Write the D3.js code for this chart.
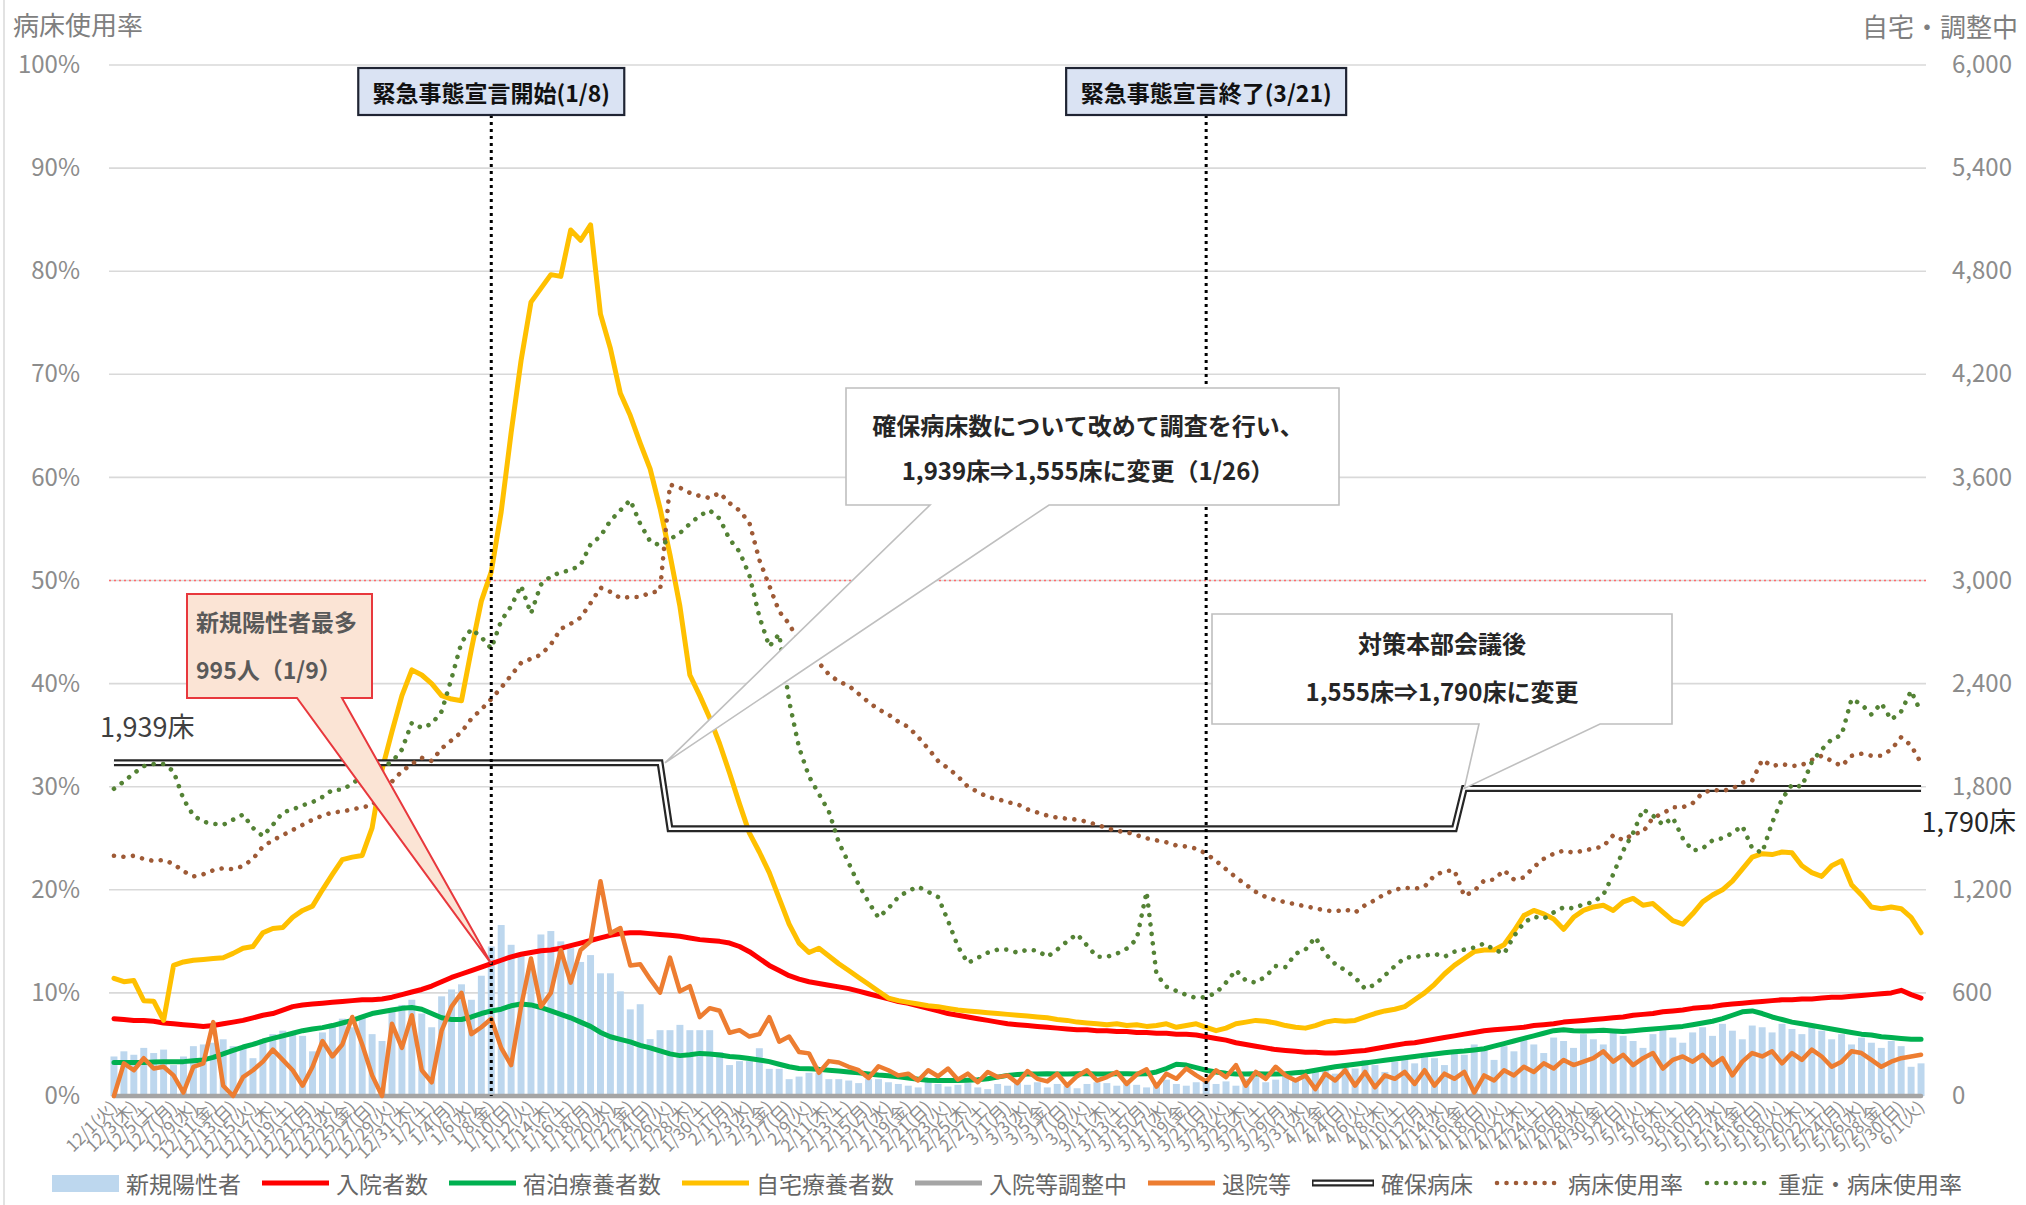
<!DOCTYPE html>
<html lang="ja">
<head>
<meta charset="utf-8">
<title>病床使用率</title>
<script src="https://cdn.jsdelivr.net/npm/d3@7/dist/d3.min.js"></script>
<style>
  html, body { margin: 0; padding: 0; background: #ffffff; }
  svg { display: block; }
</style>
</head>
<body>
<svg id="chart" width="2026" height="1205"></svg>
<script>
const FONT = '"Noto Sans CJK JP", "Noto Sans", sans-serif';

// ---------- categories & ticks ----------
const startDay = new Date(2020, 11, 1);
const endDay = new Date(2021, 5, 1);
const weekdayNames = ["日","月","火","水","木","金","土"];
const leftTicks = [0, 10, 20, 30, 40, 50, 60, 70, 80, 90, 100];
const rightTicks = [0, 600, 1200, 1800, 2400, 3000, 3600, 4200, 4800, 5400, 6000];

// ---------- series (right axis: persons / beds) ----------
const newCases = [
 230,260,240,280,250,270,180,230,290,300,
 310,330,290,280,220,330,360,380,370,350,
 260,370,420,450,400,470,360,320,500,530,
 560,480,400,580,620,650,560,700,870,995,
 880,830,760,940,960,900,860,780,820,714,
 714,609,504,534,331,383,383,414,383,383,
 383,256,180,203,203,278,158,158,98,113,
 135,135,98,98,90,75,98,98,80,70,
 60,50,90,70,55,65,75,50,40,70,
 60,75,65,80,50,70,60,45,70,80,
 75,60,90,65,50,80,95,70,60,80,
 90,70,85,60,100,110,80,95,120,90,
 110,150,170,130,190,160,210,180,140,200,
 230,190,250,220,180,260,240,300,270,210,
 290,260,330,300,250,340,320,280,360,330,
 300,380,350,320,280,360,390,340,310,370,
 400,350,420,380,330,410,400,370,420,390,
 360,410,380,330,360,300,340,310,280,320,
 290,170,190];

const hospitalized = [
 450,445,440,440,435,425,420,415,410,405,
 410,420,430,440,455,470,480,500,520,530,
 535,540,545,550,555,560,560,565,575,590,
 605,620,640,665,690,710,730,750,770,790,
 810,825,835,845,850,860,875,890,905,920,
 935,945,950,950,945,940,935,930,920,910,
 905,900,890,870,840,800,760,730,700,680,
 665,655,645,635,625,610,595,580,565,550,
 540,525,510,495,480,470,460,450,440,430,
 420,415,410,405,400,395,390,385,385,380,
 380,375,375,370,370,365,365,360,360,355,
 345,335,325,310,300,290,280,270,265,260,
 255,255,250,250,255,260,265,275,285,295,
 305,310,320,330,340,350,360,370,380,385,
 390,395,400,410,415,420,430,435,440,445,
 450,455,460,470,475,480,490,495,500,510,
 515,520,530,535,540,545,550,555,560,560,
 565,565,570,575,575,580,585,590,595,600,
 615,590,570];

const hotel = [
 195,195,195,195,198,200,200,200,205,210,
 225,245,265,285,300,320,335,350,365,380,
 390,398,410,425,440,460,480,490,500,510,
 515,505,480,455,445,445,460,480,495,505,
 525,535,530,515,495,475,455,430,405,370,
 345,330,315,295,280,262,245,235,240,248,
 245,238,230,225,218,210,200,185,170,160,
 158,155,150,145,140,135,128,122,118,112,
 105,98,92,90,90,90,92,95,100,110,
 120,125,128,128,130,128,128,130,130,128,
 128,130,130,128,130,140,160,185,180,165,
 150,140,132,128,128,130,128,128,130,135,
 140,150,160,170,178,185,192,200,208,215,
 222,230,238,245,252,258,262,268,275,290,
 305,320,335,350,365,380,385,380,378,380,
 382,378,375,380,385,390,395,400,405,415,
 425,435,450,470,490,495,480,460,445,430,
 420,410,400,390,380,370,360,355,345,340,
 335,330,330];

const home = [
 685,665,672,555,552,440,760,780,790,795,
 800,805,830,860,870,950,975,980,1040,1080,
 1105,1200,1290,1376,1390,1400,1560,1900,2120,2330,
 2480,2450,2400,2330,2310,2300,2600,2880,3050,3400,
 3860,4280,4620,4700,4780,4770,5040,4980,5070,4550,
 4350,4090,3960,3800,3650,3420,3150,2850,2450,2330,
 2200,2050,1880,1700,1530,1420,1300,1150,1000,890,
 835,860,815,770,730,690,650,610,570,555,
 545,535,525,520,510,500,495,490,485,480,
 475,470,465,460,455,445,440,430,425,420,
 415,420,410,415,405,410,420,400,410,420,
 400,380,395,420,430,440,435,425,410,400,
 395,410,430,440,435,440,460,480,495,505,
 520,560,600,650,710,760,800,840,850,850,
 880,960,1050,1080,1060,1030,970,1040,1080,1100,
 1110,1080,1130,1150,1110,1120,1070,1020,1000,1060,
 1130,1170,1200,1250,1320,1390,1410,1405,1420,1415,
 1340,1300,1278,1340,1369,1230,1170,1100,1090,1100,
 1090,1040,950];

const adjusting = [
 0,0,0,0,0,0,0,0,0,0, 0,0,0,0,0,0,0,0,0,0,
 0,0,0,0,0,0,0,0,0,0, 0,0,0,0,0,0,0,0,0,0,
 0,0,0,0,0,0,0,0,0,0, 0,0,0,0,0,0,0,0,0,0,
 0,0,0,0,0,0,0,0,0,0, 0,0,0,0,0,0,0,0,0,0,
 0,0,0,0,0,0,0,0,0,0, 0,0,0,0,0,0,0,0,0,0,
 0,0,0,0,0,0,0,0,0,0, 0,0,0,0,0,0,0,0,0,0,
 0,0,0,0,0,0,0,0,0,0, 0,0,0,0,0,0,0,0,0,0,
 0,0,0,0,0,0,0,0,0,0, 0,0,0,0,0,0,0,0,0,0,
 0,0,0,0,0,0,0,0,0,0, 0,0,0,0,0,0,0,0,0,0,
 0,0,0];

const discharged = [
 0,190,150,220,160,170,120,20,170,190,
 430,60,0,110,150,200,270,210,150,60,
 170,320,230,300,460,300,120,0,420,280,
 470,150,80,380,520,600,360,400,450,280,
 180,520,800,520,600,850,660,850,900,1250,
 947,977,760,767,680,601,805,609,639,459,
 511,496,368,383,346,360,459,316,346,256,
 248,135,203,195,170,150,105,173,150,120,
 130,90,150,115,160,95,130,80,140,110,
 120,75,145,100,85,130,60,115,150,90,
 110,140,70,125,155,55,130,100,160,120,
 85,150,110,180,60,140,100,170,120,90,
 120,40,130,90,150,60,140,50,120,100,
 140,70,150,60,130,100,140,20,120,90,
 150,120,170,140,190,160,210,180,200,220,
 260,200,240,180,220,250,160,210,230,200,
 240,180,220,120,200,250,230,260,190,250,
 210,270,230,170,200,260,250,210,170,200,
 220,230,240];

const securedBeds = [
 1939,1939,1939,1939,1939,1939,1939,1939,1939,1939,
 1939,1939,1939,1939,1939,1939,1939,1939,1939,1939,
 1939,1939,1939,1939,1939,1939,1939,1939,1939,1939,
 1939,1939,1939,1939,1939,1939,1939,1939,1939,1939,
 1939,1939,1939,1939,1939,1939,1939,1939,1939,1939,
 1939,1939,1939,1939,1939,1939,1555,1555,1555,1555,
 1555,1555,1555,1555,1555,1555,1555,1555,1555,1555,
 1555,1555,1555,1555,1555,1555,1555,1555,1555,1555,
 1555,1555,1555,1555,1555,1555,1555,1555,1555,1555,
 1555,1555,1555,1555,1555,1555,1555,1555,1555,1555,
 1555,1555,1555,1555,1555,1555,1555,1555,1555,1555,
 1555,1555,1555,1555,1555,1555,1555,1555,1555,1555,
 1555,1555,1555,1555,1555,1555,1555,1555,1555,1555,
 1555,1555,1555,1555,1555,1555,1790,1790,1790,1790,
 1790,1790,1790,1790,1790,1790,1790,1790,1790,1790,
 1790,1790,1790,1790,1790,1790,1790,1790,1790,1790,
 1790,1790,1790,1790,1790,1790,1790,1790,1790,1790,
 1790,1790,1790,1790,1790,1790,1790,1790,1790,1790,
 1790,1790,1790];

// ---------- series (left axis: %) ----------
const bedRate = [
 23.3,23.2,23.3,23.0,22.8,22.9,22.5,21.8,21.3,21.5,
 21.9,22.1,22.0,22.3,23.0,24.2,24.8,25.3,25.8,26.3,
 26.8,27.2,27.5,27.6,27.8,28.0,28.2,29.3,30.5,31.5,
 32.2,32.8,32.5,33.7,34.5,35.3,36.6,37.5,38.5,39.6,
 40.8,42.0,42.4,42.8,43.8,45.3,45.8,46.4,47.8,49.3,
 48.9,48.3,48.4,48.4,48.8,49.0,59.3,59.0,58.5,58.2,
 58.0,58.5,57.5,56.8,55.6,52.0,49.5,47.0,45.8,44.0,
 42.8,42.0,40.9,40.2,39.8,39.0,38.2,37.5,37.0,36.3,
 35.8,34.8,33.7,32.5,31.8,31.0,30.0,29.5,29.0,28.8,
 28.5,28.3,27.8,27.5,27.2,27.0,26.9,26.8,26.6,26.3,
 26.0,25.7,25.6,25.3,25.0,24.8,24.6,24.3,24.2,24.0,
 23.5,22.8,22.0,21.2,20.5,19.8,19.3,19.0,18.8,18.6,
 18.4,18.2,18.0,17.9,18.1,17.8,18.5,19.0,19.6,20.0,
 20.2,20.1,20.3,21.4,21.8,21.9,19.4,19.9,20.9,21.0,
 21.9,21.0,21.2,22.2,23.0,23.5,23.8,23.6,23.8,24.0,
 24.2,25.3,24.8,25.4,25.6,27.0,27.4,28.0,28.0,28.4,
 29.4,29.7,29.6,29.8,30.4,30.6,32.6,32.0,32.2,32.0,
 32.1,32.6,33.0,32.5,32.0,33.0,33.2,33.0,33.0,33.6,
 34.8,34.0,32.3];

const severeRate = [
 29.8,30.5,31.3,32.0,32.2,32.2,31.5,28.8,27.2,26.6,
 26.4,26.3,26.8,27.3,26.0,25.2,26.3,27.5,27.8,28.2,
 28.5,29.0,29.7,29.7,30.3,31.0,31.6,31.9,32.4,33.6,
 36.2,35.7,36.1,37.3,40.5,44.0,45.3,44.5,43.4,46.1,
 47.5,49.5,46.8,49.6,50.4,50.8,51.0,51.5,53.5,54.3,
 55.8,56.8,57.8,55.5,53.8,53.4,54.0,54.6,55.5,56.3,
 56.8,56.0,54.0,52.8,50.5,46.5,43.6,44.8,38.3,33.8,
 31.0,29.3,27.6,24.6,22.6,20.5,18.8,17.3,18.2,19.3,
 19.9,20.3,19.8,19.3,17.0,14.5,12.9,13.4,13.9,14.2,
 14.2,13.9,14.2,14.1,13.5,14.2,15.0,15.7,14.6,13.5,
 13.5,13.8,14.3,15.2,19.8,11.8,10.6,10.2,9.8,9.5,
 9.6,10.0,11.0,12.2,11.2,11.0,11.6,12.6,12.5,13.8,
 14.2,15.4,13.8,12.8,12.2,11.5,10.4,10.8,11.7,12.6,
 13.4,13.5,13.6,13.8,13.5,14.0,14.2,14.4,14.8,14.2,
 13.8,15.5,16.8,17.4,17.2,17.8,18.3,18.2,18.6,18.8,
 19.5,21.5,23.8,25.5,27.8,27.2,26.3,27.0,25.0,23.8,
 24.0,24.8,25.0,25.5,26.2,24.0,23.6,26.5,28.8,30.2,
 30.0,32.4,33.6,34.6,35.0,38.5,38.0,37.0,38.1,36.5,
 37.3,39.3,37.2];

// ---------- legend ----------
const legendItems = [
  { name: "新規陽性者",       kind: "bar",    color: "#bdd7ee" },
  { name: "入院者数",         kind: "line",   color: "#ff0000" },
  { name: "宿泊療養者数",     kind: "line",   color: "#00b050" },
  { name: "自宅療養者数",     kind: "line",   color: "#ffc000" },
  { name: "入院等調整中",     kind: "line",   color: "#a5a5a5" },
  { name: "退院等",           kind: "line",   color: "#ed7d31" },
  { name: "確保病床",         kind: "double", color: "#262626" },
  { name: "病床使用率",       kind: "dot",    color: "#9e5a36" },
  { name: "重症・病床使用率", kind: "dot",    color: "#548235" }
];

// ---------- chart ----------
const days = d3.timeDay.range(startDay, d3.timeDay.offset(endDay, 1));
const fmtDay = d => `${d.getMonth() + 1}/${d.getDate()}(${weekdayNames[d.getDay()]})`;

const svg = d3.select("#chart");
const plot = { left: 109, right: 1926, top: 65, bottom: 1096 };

const x = d3.scaleBand().domain(d3.range(days.length))
  .range([plot.left, plot.right]).paddingInner(0.3).paddingOuter(0.15);
const cx = i => x(i) + x.bandwidth() / 2;
const yR = d3.scaleLinear().domain([0, 6000]).range([plot.bottom, plot.top]);
const yL = d3.scaleLinear().domain([0, 100]).range([plot.bottom, plot.top]);

// sanity check
const all = { newCases, hospitalized, hotel, home, adjusting, discharged, securedBeds, bedRate, severeRate };
const bad = Object.entries(all).filter(([k, v]) => v.length !== days.length);
if (bad.length) {
  svg.append("text").attr("x", 300).attr("y", 300).attr("fill", "magenta").attr("font-size", 30)
    .text("LEN " + days.length + " " + bad.map(([k, v]) => k + ":" + v.length).join(" "));
}

// chart-area left border
svg.append("line").attr("x1", 4).attr("x2", 4).attr("y1", 0).attr("y2", 1205)
  .attr("stroke", "#d9d9d9").attr("stroke-width", 1.5);

// gridlines
svg.append("g").selectAll("line").data(leftTicks.filter(d => d > 0)).join("line")
  .attr("x1", plot.left).attr("x2", plot.right)
  .attr("y1", d => yL(d)).attr("y2", d => yL(d))
  .attr("stroke", "#d9d9d9").attr("stroke-width", 1.6);

// axes
const gL = svg.append("g").attr("transform", "translate(80,0)")
  .call(d3.axisLeft(yL).tickValues(leftTicks).tickFormat(d => d + "%").tickSize(0).tickPadding(0));
gL.select(".domain").remove();
gL.attr("font-family", FONT).attr("font-size", 24);
gL.selectAll("text").attr("fill", "#8c8c8c");

const gR = svg.append("g").attr("transform", "translate(1952,0)")
  .call(d3.axisRight(yR).tickValues(rightTicks).tickFormat(d3.format(",")).tickSize(0).tickPadding(0));
gR.select(".domain").remove();
gR.attr("font-family", FONT).attr("font-size", 24);
gR.selectAll("text").attr("fill", "#8c8c8c");

const gB = svg.append("g").attr("transform", `translate(0,${plot.bottom + 8})`)
  .call(d3.axisBottom(x).tickValues(d3.range(0, days.length, 2)).tickFormat(i => fmtDay(days[i])).tickSize(0).tickPadding(0));
gB.select(".domain").remove();
gB.attr("font-family", FONT).attr("font-size", 17);
gB.selectAll("text").attr("fill", "#8c8c8c")
  .attr("text-anchor", "end").attr("dy", "0.35em").attr("y", 0)
  .attr("transform", "rotate(-45)");

svg.append("text").attr("x", 13).attr("y", 35).attr("font-family", FONT).attr("font-size", 26)
  .attr("fill", "#7f7f7f").text("病床使用率");
svg.append("text").attr("x", 2018).attr("y", 37).attr("text-anchor", "end").attr("font-family", FONT)
  .attr("font-size", 26).attr("fill", "#7f7f7f").text("自宅・調整中");

// bars
svg.append("g").selectAll("rect").data(newCases).join("rect")
  .attr("x", (d, i) => x(i)).attr("width", x.bandwidth())
  .attr("y", d => yR(d)).attr("height", d => plot.bottom - yR(d))
  .attr("fill", "#bdd7ee");

const lineR = d3.line().x((d, i) => cx(i)).y(d => yR(d));
const lineL = d3.line().x((d, i) => cx(i)).y(d => yL(d));

function drawLine(data, gen, color, width, extra) {
  const p = svg.append("path").datum(data).attr("d", gen)
    .attr("fill", "none").attr("stroke", color).attr("stroke-width", width)
    .attr("stroke-linejoin", "round").attr("stroke-linecap", "round");
  if (extra) extra(p);
  return p;
}

drawLine(hospitalized, lineR, "#ff0000", 5);
drawLine(hotel, lineR, "#00b050", 5);
drawLine(home, lineR, "#ffc000", 5);
drawLine(adjusting, lineR, "#a5a5a5", 4.5);
drawLine(discharged, lineR, "#ed7d31", 4.5);
drawLine(securedBeds, lineR, "#262626", 7, p => p.attr("stroke-linecap", "butt").attr("stroke-linejoin", "miter"));
drawLine(securedBeds, lineR, "#ffffff", 2.6, p => p.attr("stroke-linecap", "butt").attr("stroke-linejoin", "miter"));
drawLine(bedRate, lineL, "#9e5a36", 4.6, p => p.attr("stroke-dasharray", "0.01 9.5"));
drawLine(severeRate, lineL, "#548235", 4.6, p => p.attr("stroke-dasharray", "0.01 9.5"));

// 50% reference line
svg.append("line").attr("x1", plot.left).attr("x2", plot.right)
  .attr("y1", yL(50)).attr("y2", yL(50))
  .attr("stroke", "#ff6b6b").attr("stroke-width", 1.6).attr("stroke-dasharray", "2 3");

// bed labels
svg.append("text").attr("x", 100).attr("y", yR(1939) - 26).attr("font-family", FONT)
  .attr("font-size", 27).attr("fill", "#404040").text("1,939床");
svg.append("text").attr("x", 2016).attr("y", yR(1790) + 44).attr("text-anchor", "end")
  .attr("font-family", FONT).attr("font-size", 27).attr("fill", "#262626").text("1,790床");

// ---------- annotations ----------
const ann = svg.append("g");
const eventDays = [38, 110];
const eventLabels = ["緊急事態宣言開始(1/8)", "緊急事態宣言終了(3/21)"];
const eventWidths = [266, 280];

eventDays.forEach((di, k) => {
  const xc = cx(di);
  ann.append("line").attr("x1", xc).attr("x2", xc).attr("y1", 115).attr("y2", plot.bottom)
    .attr("stroke", "#000").attr("stroke-width", 3).attr("stroke-dasharray", "3 4");
});

function callout(box, b1, b2, tip, fill, stroke, sw) {
  const [x0, y0, x1, y1] = box;
  const d = `M${x0},${y0}H${x1}V${y1}H${b2}L${tip[0]},${tip[1]}L${b1},${y1}H${x0}Z`;
  ann.append("path").attr("d", d).attr("fill", fill).attr("stroke", stroke)
    .attr("stroke-width", sw).attr("stroke-linejoin", "miter");
}
function txt(xp, yp, s, size, anchor, color) {
  ann.append("text").attr("x", xp).attr("y", yp).attr("text-anchor", anchor || "middle")
    .attr("dominant-baseline", "central").attr("font-family", FONT).attr("font-weight", "bold")
    .attr("font-size", size).attr("fill", color || "#262626").text(s);
}

// capacity change 1/26
callout([846, 388, 1339, 505], 930, 1049, [(cx(55) + cx(56)) / 2, yR(securedBeds[55])], "#ffffff", "#bfbfbf", 1.6);
txt(1088, 424, "確保病床数について改めて調査を行い、", 24);
txt(1088, 469, "1,939床⇒1,555床に変更（1/26）", 24);

// capacity change after 対策本部会議
callout([1212, 614, 1672, 724], 1479, 1600, [cx(136), yR(securedBeds[136])], "#ffffff", "#bfbfbf", 1.6);
txt(1442, 642, "対策本部会議後", 24);
txt(1442, 690, "1,555床⇒1,790床に変更", 24);

// record new cases
callout([187, 594, 372, 698], 297, 342, [cx(38), yR(hospitalized[38])], "#fbe4d5", "#e8383d", 2);
txt(196, 621, "新規陽性者最多", 23, "start", "#595959");
txt(196, 669, "995人（1/9）", 23, "start", "#595959");

// event boxes
eventDays.forEach((di, k) => {
  const xc = cx(di), w = eventWidths[k];
  ann.append("rect").attr("x", xc - w / 2).attr("y", 68).attr("width", w).attr("height", 47)
    .attr("fill", "#dae3f3").attr("stroke", "#1f2433").attr("stroke-width", 2.2);
  txt(xc, 92, eventLabels[k], 23, "middle", "#111");
});

// ---------- legend ----------
const lg = svg.append("g").attr("font-family", FONT).attr("font-size", 23);
let lx = 52;
const ly = 1183;
legendItems.forEach(it => {
  const sw = it.kind === "double" ? 62 : 67;
  if (it.kind === "bar") {
    lg.append("rect").attr("x", lx).attr("y", ly - 8).attr("width", sw).attr("height", 17).attr("fill", it.color);
  } else if (it.kind === "line") {
    lg.append("line").attr("x1", lx).attr("x2", lx + sw).attr("y1", ly).attr("y2", ly)
      .attr("stroke", it.color).attr("stroke-width", 5);
  } else if (it.kind === "double") {
    lg.append("line").attr("x1", lx).attr("x2", lx + sw).attr("y1", ly).attr("y2", ly)
      .attr("stroke", it.color).attr("stroke-width", 7);
    lg.append("line").attr("x1", lx + 1.5).attr("x2", lx + sw - 1.5).attr("y1", ly).attr("y2", ly)
      .attr("stroke", "#ffffff").attr("stroke-width", 2.6);
  } else {
    lg.append("line").attr("x1", lx + 3).attr("x2", lx + sw).attr("y1", ly).attr("y2", ly)
      .attr("stroke", it.color).attr("stroke-width", 4.6).attr("stroke-linecap", "round")
      .attr("stroke-dasharray", "0.01 9.5");
  }
  const t = lg.append("text").attr("x", lx + sw + 7).attr("y", ly).attr("dominant-baseline", "central")
    .attr("fill", "#666666").text(it.name);
  lx = lx + sw + 7 + t.node().getComputedTextLength() + 21;
});
</script>
</body>
</html>
